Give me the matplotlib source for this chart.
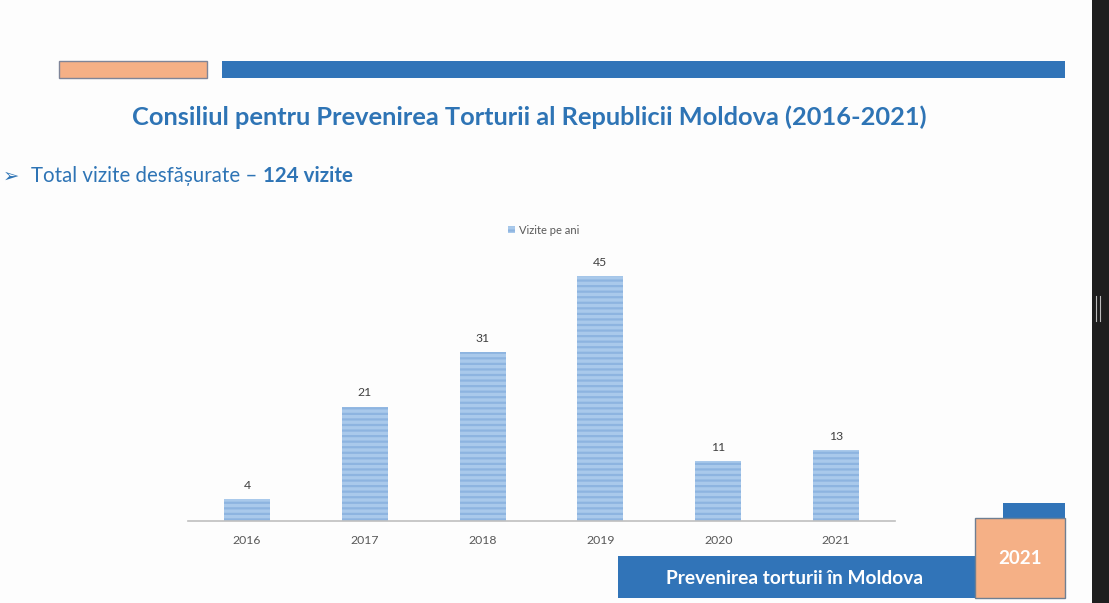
import matplotlib
matplotlib.use("Agg")
import matplotlib.pyplot as plt
from matplotlib.patches import Rectangle

years = ["2016", "2017", "2018", "2019", "2020", "2021"]
visits = [4, 21, 31, 45, 11, 13]
series_name = "Vizite pe ani"
title = "Consiliul pentru Prevenirea Torturii al Republicii Moldova (2016-2021)"
bullet_text = "Total vizite desfășurate – "
bullet_bold = "124 vizite"
banner_text = "Prevenirea torturii în Moldova"
banner_year = "2021"

W, H = 1109, 603
BLUE = "#3174B8"
TBLUE = "#2E74B5"
PEACH = "#F5B086"
GRAY = "#595959"
plt.rcParams["font.family"] = ["Lato", "DejaVu Sans"]
plt.rcParams["hatch.linewidth"] = 1.6

fig = plt.figure(figsize=(W / 100, H / 100), dpi=100)
fig.patch.set_facecolor("#FDFDFD")

# overlay in pixel coordinates for decorations
ov = fig.add_axes([0, 0, 1, 1])
ov.set_xlim(0, W)
ov.set_ylim(H, 0)
ov.axis("off")

def rect(x0, y0, x1, y1, fc, ec="none", lw=0, z=1):
    ov.add_patch(Rectangle((x0, y0), x1 - x0, y1 - y0, facecolor=fc, edgecolor=ec, linewidth=lw, zorder=z))

rect(59, 61, 207, 78, PEACH, ec="#7F8598", lw=1.0)
rect(222, 61, 1065, 78, BLUE)
rect(1092, 0, W, H, "#1E1E1E", z=3)
ov.plot([1096, 1096], [296, 321], color="#BBBBBB", lw=0.8, zorder=4)
ov.plot([1099.5, 1099.5], [296, 321], color="#BBBBBB", lw=0.8, zorder=4)

rect(618, 556, 975, 598, BLUE)
rect(1003, 503, 1065, 518, BLUE)
rect(975, 518, 1065, 598, PEACH, ec="#6F7F92", lw=1.0, z=2)
ov.text(794, 578, banner_text, color="white", fontsize=13.8, fontweight="bold", ha="center", va="center")
ov.text(1020, 558, banner_year, color="white", fontsize=13.5, fontweight="bold", ha="center", va="center", zorder=3)

ov.text(529, 117, title, color=TBLUE, fontsize=18.3, fontweight="bold", ha="center", va="center")
ov.text(3, 176, "➢", color=TBLUE, fontsize=14, ha="left", va="center", family="DejaVu Sans")
t1 = ov.text(31, 176, bullet_text, color=TBLUE, fontsize=14.8, ha="left", va="center")
fig.canvas.draw()
bb = t1.get_window_extent()
x_end = bb.x1
ov.text(x_end, 176, bullet_bold, color=TBLUE, fontsize=14.8, fontweight="bold", ha="left", va="center",
        transform=matplotlib.transforms.blended_transform_factory(matplotlib.transforms.IdentityTransform(), ov.transData))

# chart axes
ax = fig.add_axes([188 / W, (H - 521) / H, 707 / W, 272 / H])
ax.set_facecolor("none")
x = list(range(len(years)))
bars = ax.bar(x, visits, width=0.39, color="#A9C9EB", edgecolor="#8DB4E0", linewidth=0, hatch="---", label=series_name)
for xi, v in zip(x, visits):
    ax.annotate(str(v), (xi, v), xytext=(0, 6), textcoords="offset points", ha="center", va="bottom",
                fontsize=8.8, color="#404040")
ax.set_xlim(-0.5, len(years) - 0.5)
ax.set_ylim(0, 50)
ax.set_xticks(x)
ax.set_xticklabels(years, fontsize=8.8, color=GRAY)
ax.tick_params(axis="x", length=0, pad=10)
ax.set_yticks([])
for s in ["top", "right", "left"]:
    ax.spines[s].set_visible(False)
ax.spines["bottom"].set_color("#BFBFBF")
ax.spines["bottom"].set_linewidth(1.2)
leg = ax.legend(loc="center", bbox_to_anchor=(544 / W, (H - 230) / H), bbox_transform=fig.transFigure,
                frameon=False, fontsize=8, handlelength=0.6, handleheight=0.6, handletextpad=0.4,
                labelcolor=GRAY)

fig.savefig("out.png", dpi=100, facecolor=fig.get_facecolor())
